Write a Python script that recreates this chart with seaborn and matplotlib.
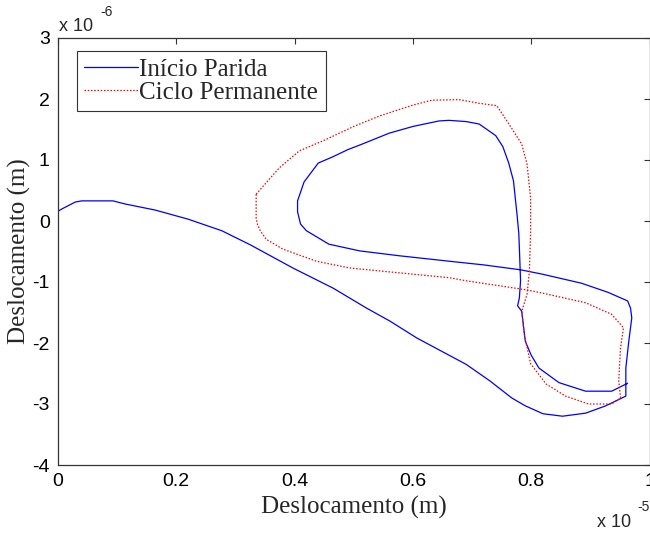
import matplotlib
matplotlib.use("Agg")
import matplotlib.pyplot as plt
import seaborn as sns
import numpy as np

# Data (x in units of 1e-5 m, y in units of 1e-6 m)
inicio_x = [0.0, 0.007, 0.029, 0.04, 0.093, 0.113, 0.164, 0.22, 0.277, 0.325, 0.397,
            0.465, 0.522, 0.561, 0.607, 0.663, 0.69, 0.73, 0.767, 0.79, 0.82, 0.853,
            0.892, 0.926, 0.96,
            0.96, 0.965, 0.97, 0.968, 0.963, 0.93, 0.885, 0.818, 0.782, 0.72, 0.662,
            0.577, 0.51, 0.458, 0.42, 0.41, 0.405, 0.405, 0.416, 0.44,
            0.464, 0.49, 0.514, 0.56, 0.60, 0.644, 0.661, 0.69, 0.712, 0.74, 0.752,
            0.762, 0.77, 0.776, 0.779, 0.78, 0.782, 0.78, 0.777, 0.784, 0.79, 0.80,
            0.813, 0.847, 0.892, 0.936, 0.963]
inicio_y = [0.16, 0.2, 0.31, 0.33, 0.33, 0.28, 0.18, 0.03, -0.16, -0.39, -0.77,
            -1.1, -1.43, -1.64, -1.92, -2.21, -2.35, -2.62, -2.9, -3.03, -3.16, -3.2,
            -3.15, -3.03, -2.87,
            -2.41, -1.97, -1.59, -1.43, -1.31, -1.17, -1.02, -0.87, -0.80, -0.72, -0.66,
            -0.57, -0.49, -0.38, -0.16, -0.05, 0.15, 0.33, 0.64, 0.95,
            1.05, 1.17, 1.26, 1.44, 1.55, 1.64, 1.65, 1.63, 1.59, 1.40, 1.22,
            0.95, 0.66, 0.11, -0.2, -0.44, -0.98, -1.26, -1.39, -1.48, -1.97, -2.2,
            -2.41, -2.65, -2.79, -2.79, -2.66]

ciclo_x = [0.335, 0.374, 0.408, 0.447, 0.50, 0.543, 0.60, 0.632, 0.678, 0.712, 0.742,
           0.767, 0.784, 0.793, 0.799, 0.799, 0.797, 0.793, 0.784, 0.788, 0.799, 0.825,
           0.858, 0.897, 0.936, 0.951, 0.948, 0.951, 0.956, 0.936, 0.892, 0.818, 0.793,
           0.69, 0.662, 0.577, 0.493, 0.437, 0.38, 0.352, 0.342, 0.337, 0.335, 0.335]
ciclo_y = [0.44, 0.87, 1.15, 1.31, 1.55, 1.72, 1.9, 1.98, 1.99, 1.93, 1.89,
           1.52, 1.26, 0.93, 0.38, -0.16, -0.82, -1.2, -1.48, -1.85, -2.34, -2.67,
           -2.87, -3.0, -3.0, -2.9, -2.62, -2.08, -1.75, -1.53, -1.34, -1.18, -1.13,
           -0.98, -0.93, -0.85, -0.77, -0.66, -0.46, -0.3, -0.16, -0.05, 0.05, 0.44]

labels = ["Início Parida", "Ciclo Permanente"]
xticks = [0, 0.2, 0.4, 0.6, 0.8, 1.0]
xticklabels = ["0", "0.2", "0.4", "0.6", "0.8", "1"]
yticks = [-4, -3, -2, -1, 0, 1, 2, 3]

sns.set_style("white")
serif = ["Liberation Serif", "DejaVu Serif"]
sans = ["Liberation Sans", "DejaVu Sans"]
plt.rcParams['font.family'] = sans
plt.rcParams['axes.unicode_minus'] = False

fig = plt.figure(figsize=(6.5, 5.33), dpi=100)
ax = fig.add_axes([58 / 650, 1 - 465 / 533, (649.5 - 58) / 650, (465 - 38) / 533])

sns.lineplot(x=inicio_x, y=inicio_y, sort=False, estimator=None, ax=ax,
             color="blue", linewidth=0.9, label=labels[0])
sns.lineplot(x=ciclo_x, y=ciclo_y, sort=False, estimator=None, ax=ax,
             color="red", linewidth=0.9, linestyle=(0, (1.2, 1.4)), label=labels[1])

ax.set_xlim(0, 1.0)
ax.set_ylim(-4, 3)
ax.set_xticks(xticks)
ax.set_xticklabels(xticklabels)
ax.set_yticks(yticks)
ax.tick_params(direction="in", length=4, width=0.8, top=True, right=True,
               labelsize=14, colors="#333333", labelcolor="black", pad=6)
for s in ax.spines.values():
    s.set_color("#333333")
    s.set_linewidth(0.9)

ax.set_xlabel("Deslocamento (m)", family=serif, fontsize=18, labelpad=4)
ax.set_ylabel("Deslocamento (m)", family=serif, fontsize=18, labelpad=0.5)

leg = ax.legend(loc="upper left", bbox_to_anchor=(0.032, 0.97), borderaxespad=0,
                prop={"family": serif, "size": 18}, fancybox=False, framealpha=1,
                edgecolor="#333333", handlelength=2.15, handletextpad=0.05,
                labelspacing=0.02, borderpad=0.3)
leg.get_frame().set_linewidth(0.8)

fig.text(59 / 650, 1 - 31 / 533, "x 10", fontsize=13, family=sans, va="baseline")
fig.text(100 / 650, 1 - 16 / 533, "-6", fontsize=10, family=sans, va="baseline")
fig.text(597 / 650, 1 - 527 / 533, "x 10", fontsize=13, family=sans, va="baseline")
fig.text(637 / 650, 1 - 511 / 533, "-5", fontsize=10, family=sans, va="baseline")

fig.savefig("out.png", dpi=100)
